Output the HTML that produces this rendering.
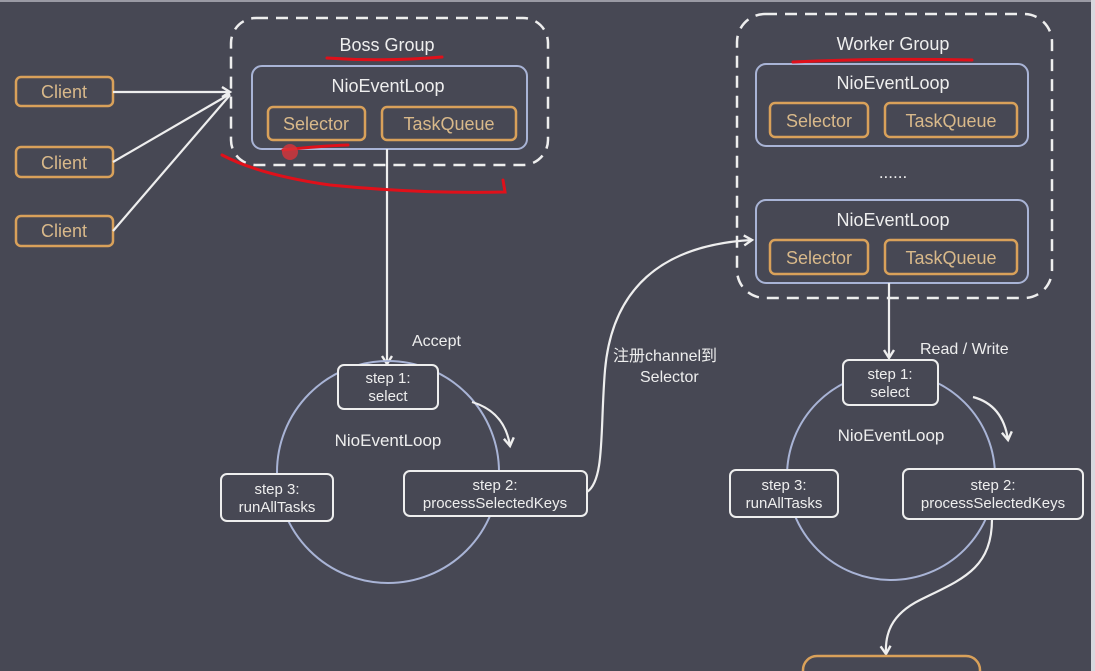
<!DOCTYPE html>
<html><head><meta charset="utf-8"><style>
html,body{margin:0;padding:0;background:#474854;}
svg{display:block}
text{font-family:"Liberation Sans","Noto Sans CJK SC",sans-serif;fill:#eeeeee}
.o{fill:none;stroke:#d9a15a;stroke-width:2.5}
.b{fill:none;stroke:#a9b4d6;stroke-width:2}
.w{fill:none;stroke:#eeeeee;stroke-width:2.2}
.d{fill:none;stroke:#eeeeee;stroke-width:2.5;stroke-dasharray:12 8}
.ot{fill:#d9b98a;font-size:18px}
.r{fill:none;stroke:#e0101a;stroke-width:3;stroke-linecap:round}
</style></head><body>
<svg width="1095" height="671" viewBox="0 0 1095 671">
<defs><marker id="a" markerWidth="12" markerHeight="12" refX="9" refY="6" orient="auto" markerUnits="userSpaceOnUse"><path d="M1,1 L9,6 L1,11" fill="none" stroke="#eee" stroke-width="2.4"/></marker></defs>
<rect x="0" y="0" width="1095" height="671" fill="#474854"/>
<line x1="0" y1="1" x2="1095" y2="1" stroke="#9a9aa4" stroke-width="2"/>
<rect x="1091" y="0" width="4" height="671" fill="#d8d8de"/>

<rect class="o" x="16" y="77" width="97" height="29" rx="5"/><text class="ot" x="64" y="98" text-anchor="middle">Client</text>
<rect class="o" x="16" y="147" width="97" height="30" rx="5"/><text class="ot" x="64" y="169" text-anchor="middle">Client</text>
<rect class="o" x="16" y="216" width="97" height="30" rx="5"/><text class="ot" x="64" y="237" text-anchor="middle">Client</text>
<line class="w" x1="113" y1="92" x2="230" y2="92" marker-end="url(#a)"/>
<line class="w" x1="113" y1="162" x2="230" y2="94"/>
<line class="w" x1="113" y1="231" x2="230" y2="95"/>

<rect class="d" x="231" y="18" width="317" height="147" rx="25"/>
<text x="387" y="51" text-anchor="middle" font-size="18">Boss Group</text>
<rect class="b" x="252" y="66" width="275" height="83" rx="10"/>
<text x="388" y="92" text-anchor="middle" font-size="18">NioEventLoop</text>
<rect class="o" x="268" y="107" width="97" height="33" rx="5"/><text class="ot" x="316" y="130" text-anchor="middle">Selector</text>
<rect class="o" x="382" y="107" width="134" height="33" rx="5"/><text class="ot" x="449" y="130" text-anchor="middle">TaskQueue</text>
<line class="w" x1="387" y1="149" x2="387" y2="364" marker-end="url(#a)"/>
<text x="412" y="346" font-size="16">Accept</text>

<circle cx="388" cy="472" r="111" fill="none" stroke="#a9b4d6" stroke-width="2"/>
<rect x="338" y="365" width="100" height="44" rx="6" fill="#474854" stroke="#eee" stroke-width="2"/>
<text x="388" y="383" text-anchor="middle" font-size="15">step 1:</text><text x="388" y="401" text-anchor="middle" font-size="15">select</text>
<text x="388" y="446" text-anchor="middle" font-size="17">NioEventLoop</text>
<rect x="404" y="471" width="183" height="45" rx="6" fill="#474854" stroke="#eee" stroke-width="2"/>
<text x="495" y="490" text-anchor="middle" font-size="15">step 2:</text><text x="495" y="508" text-anchor="middle" font-size="15">processSelectedKeys</text>
<rect x="221" y="474" width="112" height="47" rx="6" fill="#474854" stroke="#eee" stroke-width="2"/>
<text x="277" y="494" text-anchor="middle" font-size="15">step 3:</text><text x="277" y="512" text-anchor="middle" font-size="15">runAllTasks</text>
<path class="w" d="M472,402 Q505,412 510,446" marker-end="url(#a)"/>

<path class="w" d="M587,492 C605,480 600,430 605,370 C612,290 660,245 752,240" marker-end="url(#a)"/>
<text x="613" y="361" font-size="16">注册channel到</text>
<text x="640" y="382" font-size="16">Selector</text>

<rect class="d" x="737" y="14" width="315" height="284" rx="28"/>
<text x="893" y="50" text-anchor="middle" font-size="18">Worker Group</text>
<rect class="b" x="756" y="64" width="272" height="82" rx="10"/>
<text x="893" y="89" text-anchor="middle" font-size="18">NioEventLoop</text>
<rect class="o" x="770" y="103" width="98" height="34" rx="5"/><text class="ot" x="819" y="127" text-anchor="middle">Selector</text>
<rect class="o" x="885" y="103" width="132" height="34" rx="5"/><text class="ot" x="951" y="127" text-anchor="middle">TaskQueue</text>
<text x="893" y="178" text-anchor="middle" font-size="17">......</text>
<rect class="b" x="756" y="200" width="272" height="83" rx="10"/>
<text x="893" y="226" text-anchor="middle" font-size="18">NioEventLoop</text>
<rect class="o" x="770" y="240" width="98" height="34" rx="5"/><text class="ot" x="819" y="264" text-anchor="middle">Selector</text>
<rect class="o" x="885" y="240" width="132" height="34" rx="5"/><text class="ot" x="951" y="264" text-anchor="middle">TaskQueue</text>
<line class="w" x1="889" y1="283" x2="889" y2="358" marker-end="url(#a)"/>
<text x="920" y="354" font-size="16">Read / Write</text>

<circle cx="891" cy="476" r="104" fill="none" stroke="#a9b4d6" stroke-width="2"/>
<rect x="843" y="360" width="95" height="45" rx="6" fill="#474854" stroke="#eee" stroke-width="2"/>
<text x="890" y="379" text-anchor="middle" font-size="15">step 1:</text><text x="890" y="397" text-anchor="middle" font-size="15">select</text>
<text x="891" y="441" text-anchor="middle" font-size="17">NioEventLoop</text>
<rect x="903" y="469" width="180" height="50" rx="6" fill="#474854" stroke="#eee" stroke-width="2"/>
<text x="993" y="490" text-anchor="middle" font-size="15">step 2:</text><text x="993" y="508" text-anchor="middle" font-size="15">processSelectedKeys</text>
<rect x="730" y="470" width="108" height="47" rx="6" fill="#474854" stroke="#eee" stroke-width="2"/>
<text x="784" y="490" text-anchor="middle" font-size="15">step 3:</text><text x="784" y="508" text-anchor="middle" font-size="15">runAllTasks</text>
<path class="w" d="M973,397 Q1003,405 1008,440" marker-end="url(#a)"/>
<path class="w" d="M992,519 C992,570 960,580 920,600 C890,615 885,635 886,654" marker-end="url(#a)"/>
<rect x="803" y="656" width="177" height="40" rx="14" fill="none" stroke="#d9a15a" stroke-width="2.5"/>

<path class="r" d="M327,58 Q385,62 442,57"/>
<path class="r" d="M283,150 Q320,146 348,145"/>
<circle cx="290" cy="152" r="8" fill="#d8343a" opacity="0.8"/>
<path class="r" d="M222,155 Q260,175 330,185 Q420,194 505,192 L503,180"/>
<path class="r" d="M793,62 Q880,58 972,60"/>
</svg>
</body></html>
